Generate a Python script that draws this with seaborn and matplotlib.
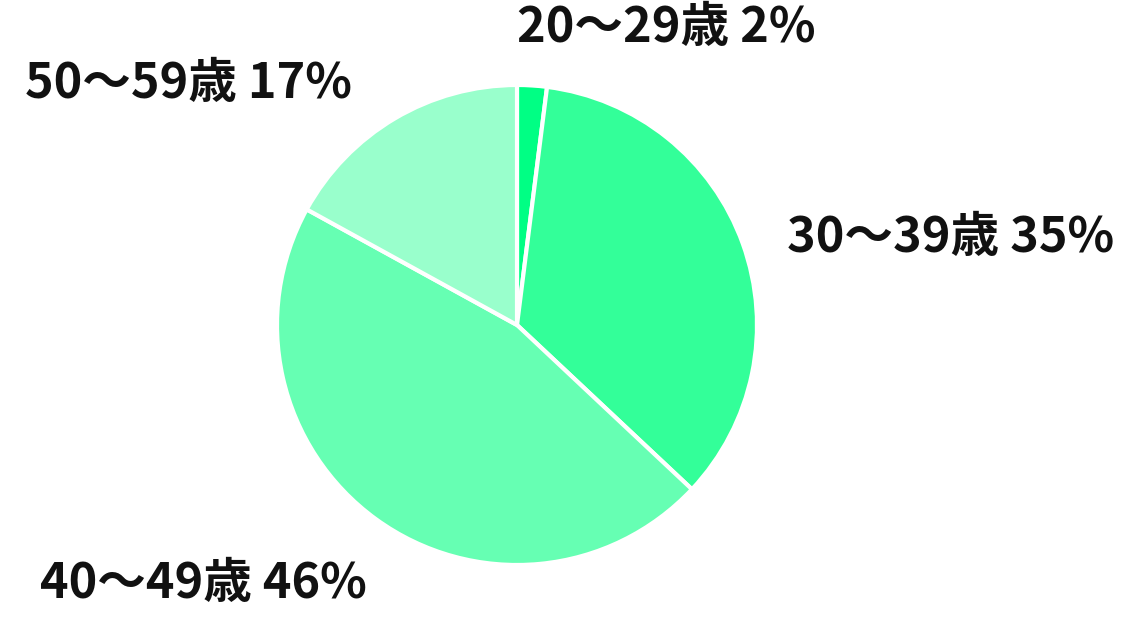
import matplotlib
matplotlib.use("Agg")
import matplotlib.pyplot as plt
import seaborn as sns

# data
age_groups = ["20～29歳", "30～39歳", "40～49歳", "50～59歳"]
shares = [2, 35, 46, 17]
colors = ["#00ff84", "#33ff99", "#66ffb3", "#99ffcc"]

# label anchor (figure fraction, left edge / vertical centre)
label_pos = [(517 / 1138, 1 - 27 / 628),
             (787 / 1138, 1 - 238 / 628),
             (40 / 1138, 1 - 583 / 628),
             (25 / 1138, 1 - 83 / 628)]

sns.set_theme(style="white")
plt.rcParams["font.family"] = ["Noto Sans CJK JP", "DejaVu Sans"]

fig = plt.figure(figsize=(11.38, 6.28), dpi=100)
ax = fig.add_axes([277 / 1138, 63 / 628, 480 / 1138, 480 / 628])
ax.pie(shares, colors=sns.color_palette(colors), startangle=90, counterclock=False,
       radius=1.0, wedgeprops=dict(edgecolor="white", linewidth=3))
ax.set_xlim(-1, 1)
ax.set_ylim(-1, 1)
ax.set_aspect("equal")
ax.axis("off")

for name, val, (x, y) in zip(age_groups, shares, label_pos):
    fig.text(x, y, f"{name} {val}%", fontsize=35, fontweight="bold",
             color="#111111", ha="left", va="center")

fig.savefig("out.png", dpi=100)
